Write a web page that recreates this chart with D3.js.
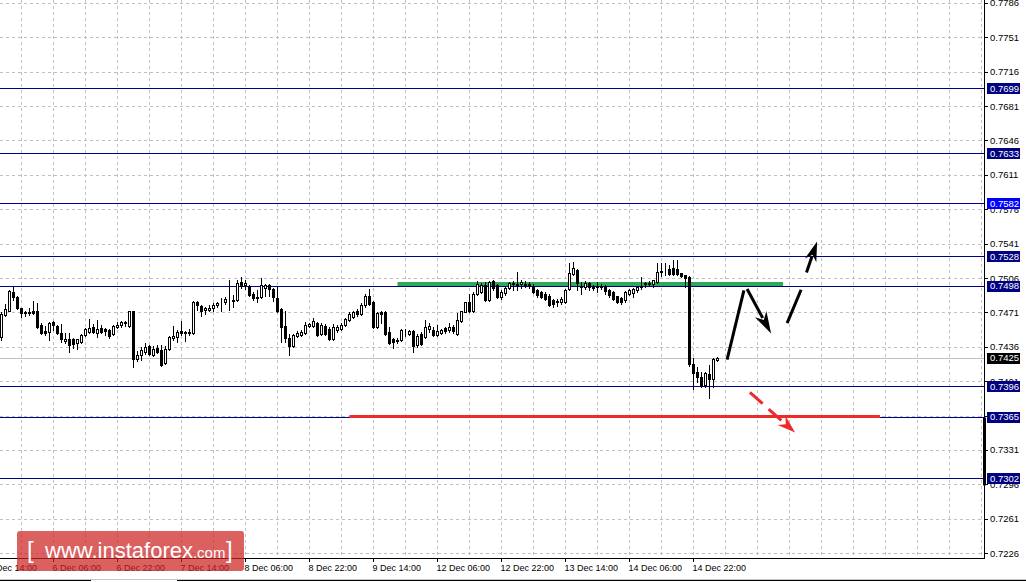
<!DOCTYPE html>
<html><head><meta charset="utf-8">
<script src="https://cdnjs.cloudflare.com/ajax/libs/d3/7.8.5/d3.min.js"></script>
<style>html,body{margin:0;padding:0;background:#fff;overflow:hidden}svg{display:block}</style>
</head><body><svg id="c" width="1026" height="582"></svg>
<script>
// ---- data (AUD/USD H1 candles) ----
const opens = [
0.7446,0.7468,0.7473,0.7492,0.7487,0.7476,0.7471,0.7470,0.7472,0.7472,
0.7458,0.7452,0.7451,0.7461,0.7457,0.7450,0.7442,0.7444,0.7444,0.7440,
0.7441,0.7448,0.7451,0.7456,0.7450,0.7455,0.7454,0.7453,0.7449,0.7456,
0.7458,0.7460,0.7457,0.7472,0.7424,0.7428,0.7431,0.7437,0.7428,0.7435,
0.7433,0.7420,0.7434,0.7445,0.7446,0.7452,0.7451,0.7450,0.7450,0.7482,
0.7478,0.7474,0.7474,0.7476,0.7479,0.7481,0.7482,0.7484,0.7484,0.7484,
0.7502,0.7499,0.7498,0.7490,0.7486,0.7487,0.7496,0.7499,0.7495,0.7486,
0.7475,0.7457,0.7445,0.7437,0.7447,0.7448,0.7450,0.7457,0.7457,0.7460,
0.7449,0.7457,0.7454,0.7444,0.7453,0.7454,0.7458,0.7463,0.7466,0.7472,
0.7469,0.7479,0.7488,0.7482,0.7456,0.7471,0.7471,0.7451,0.7444,0.7442,
0.7443,0.7452,0.7449,0.7452,0.7438,0.7449,0.7446,0.7454,0.7453,0.7448,
0.7450,0.7455,0.7453,0.7456,0.7449,0.7462,0.7471,0.7482,0.7472,0.7490,
0.7492,0.7499,0.7484,0.7503,0.7499,0.7487,0.7491,0.7496,0.7500,0.7500,
0.7500,0.7500,0.7500,0.7497,0.7494,0.7492,0.7490,0.7488,0.7484,0.7482,
0.7482,0.7482,0.7495,0.7510,0.7514,0.7497,0.7497,0.7501,0.7497,0.7497,
0.7498,0.7497,0.7494,0.7492,0.7488,0.7486,0.7484,0.7490,0.7491,0.7494,
0.7497,0.7500,0.7501,0.7500,0.7502,0.7512,0.7513,0.7515,0.7516,0.7515,
0.7511,0.7509,0.7507,0.7419,0.7410,0.7405,0.7397,0.7408,0.7403,0.7423];
const highs = [
0.7471,0.7480,0.7494,0.7497,0.7488,0.7476,0.7473,0.7476,0.7483,0.7481,
0.7460,0.7457,0.7461,0.7462,0.7458,0.7459,0.7450,0.7450,0.7445,0.7444,
0.7449,0.7455,0.7464,0.7459,0.7463,0.7458,0.7455,0.7454,0.7458,0.7461,
0.7462,0.7462,0.7473,0.7473,0.7432,0.7436,0.7440,0.7438,0.7437,0.7438,
0.7438,0.7437,0.7447,0.7457,0.7453,0.7462,0.7452,0.7454,0.7483,0.7483,
0.7479,0.7477,0.7479,0.7481,0.7482,0.7486,0.7487,0.7504,0.7489,0.7504,
0.7507,0.7504,0.7499,0.7492,0.7494,0.7506,0.7500,0.7500,0.7496,0.7497,
0.7476,0.7473,0.7449,0.7449,0.7452,0.7453,0.7461,0.7460,0.7465,0.7461,
0.7460,0.7459,0.7456,0.7459,0.7458,0.7460,0.7465,0.7471,0.7473,0.7475,
0.7481,0.7490,0.7495,0.7483,0.7471,0.7473,0.7473,0.7456,0.7445,0.7445,
0.7454,0.7454,0.7453,0.7453,0.7449,0.7451,0.7463,0.7460,0.7456,0.7458,
0.7454,0.7456,0.7460,0.7458,0.7470,0.7473,0.7482,0.7490,0.7492,0.7503,
0.7501,0.7502,0.7503,0.7504,0.7500,0.7494,0.7497,0.7502,0.7503,0.7512,
0.7504,0.7503,0.7502,0.7500,0.7495,0.7493,0.7492,0.7490,0.7485,0.7485,
0.7487,0.7495,0.7521,0.7522,0.7515,0.7502,0.7503,0.7502,0.7499,0.7502,
0.7500,0.7499,0.7495,0.7493,0.7488,0.7487,0.7493,0.7495,0.7496,0.7498,
0.7507,0.7502,0.7503,0.7504,0.7521,0.7521,0.7521,0.7519,0.7524,0.7524,
0.7511,0.7509,0.7508,0.7425,0.7415,0.7410,0.7410,0.7418,0.7425,0.7426];
const lows = [
0.7443,0.7467,0.7472,0.7484,0.7475,0.7466,0.7467,0.7468,0.7469,0.7455,
0.7449,0.7448,0.7443,0.7453,0.7449,0.7441,0.7440,0.7431,0.7435,0.7434,
0.7440,0.7447,0.7450,0.7450,0.7446,0.7450,0.7448,0.7445,0.7448,0.7455,
0.7456,0.7457,0.7456,0.7416,0.7422,0.7423,0.7429,0.7428,0.7427,0.7430,
0.7417,0.7419,0.7433,0.7443,0.7441,0.7448,0.7442,0.7448,0.7449,0.7474,
0.7467,0.7469,0.7472,0.7473,0.7477,0.7473,0.7480,0.7474,0.7477,0.7483,
0.7496,0.7495,0.7488,0.7484,0.7482,0.7486,0.7488,0.7488,0.7483,0.7471,
0.7441,0.7441,0.7428,0.7436,0.7446,0.7447,0.7449,0.7456,0.7456,0.7447,
0.7448,0.7448,0.7443,0.7443,0.7451,0.7453,0.7457,0.7462,0.7465,0.7467,
0.7468,0.7477,0.7479,0.7455,0.7455,0.7460,0.7448,0.7439,0.7435,0.7440,
0.7442,0.7447,0.7448,0.7431,0.7436,0.7438,0.7445,0.7451,0.7447,0.7447,
0.7449,0.7450,0.7451,0.7450,0.7448,0.7461,0.7471,0.7471,0.7471,0.7489,
0.7491,0.7483,0.7483,0.7494,0.7486,0.7485,0.7489,0.7495,0.7494,0.7494,
0.7496,0.7497,0.7496,0.7491,0.7487,0.7486,0.7484,0.7478,0.7477,0.7478,
0.7480,0.7481,0.7494,0.7509,0.7494,0.7490,0.7495,0.7494,0.7494,0.7492,
0.7495,0.7490,0.7487,0.7484,0.7481,0.7480,0.7482,0.7489,0.7487,0.7492,
0.7495,0.7497,0.7498,0.7497,0.7501,0.7508,0.7509,0.7509,0.7509,0.7509,
0.7507,0.7497,0.7417,0.7393,0.7400,0.7395,0.7395,0.7384,0.7395,0.7422];
const closes = [
0.7469,0.7475,0.7493,0.7487,0.7476,0.7470,0.7470,0.7471,0.7470,0.7456,
0.7450,0.7450,0.7460,0.7458,0.7450,0.7444,0.7444,0.7438,0.7439,0.7444,
0.7448,0.7454,0.7455,0.7451,0.7454,0.7451,0.7452,0.7447,0.7457,0.7458,
0.7461,0.7461,0.7472,0.7424,0.7428,0.7433,0.7436,0.7429,0.7434,0.7431,
0.7418,0.7434,0.7446,0.7447,0.7451,0.7450,0.7450,0.7451,0.7482,0.7479,
0.7473,0.7476,0.7476,0.7479,0.7481,0.7481,0.7485,0.7484,0.7483,0.7501,
0.7498,0.7501,0.7489,0.7486,0.7487,0.7499,0.7499,0.7495,0.7487,0.7472,
0.7456,0.7445,0.7437,0.7448,0.7450,0.7451,0.7458,0.7459,0.7462,0.7448,
0.7458,0.7449,0.7444,0.7456,0.7456,0.7458,0.7464,0.7469,0.7471,0.7469,
0.7479,0.7488,0.7480,0.7456,0.7470,0.7469,0.7449,0.7440,0.7441,0.7443,
0.7453,0.7452,0.7452,0.7437,0.7447,0.7439,0.7456,0.7457,0.7448,0.7452,
0.7453,0.7452,0.7456,0.7452,0.7463,0.7472,0.7482,0.7472,0.7490,0.7500,
0.7499,0.7484,0.7502,0.7496,0.7487,0.7492,0.7496,0.7501,0.7501,0.7499,
0.7502,0.7499,0.7498,0.7492,0.7489,0.7487,0.7485,0.7479,0.7480,0.7483,
0.7485,0.7494,0.7511,0.7516,0.7501,0.7498,0.7501,0.7497,0.7496,0.7498,
0.7497,0.7493,0.7489,0.7485,0.7482,0.7482,0.7492,0.7494,0.7495,0.7497,
0.7498,0.7501,0.7500,0.7504,0.7512,0.7513,0.7513,0.7510,0.7510,0.7510,
0.7508,0.7506,0.7419,0.7409,0.7405,0.7396,0.7409,0.7403,0.7424,0.7425];

const priceTicks = [0.7786,0.7751,0.7716,0.7681,0.7646,0.7611,0.7576,0.7541,0.7506,0.7471,0.7436,0.7401,0.7366,0.7331,0.7296,0.7261,0.7226];
const timeLabels = ["5 Dec 14:00","6 Dec 06:00","6 Dec 22:00","7 Dec 14:00","8 Dec 06:00","8 Dec 22:00","9 Dec 14:00","12 Dec 06:00","12 Dec 22:00","13 Dec 14:00","14 Dec 06:00","14 Dec 22:00"];
const timeLabelBars = [-3,13,29,45,61,77,93,109,125,141,157,173];
const levels = [0.7699,0.7633,0.7582,0.7528,0.7498,0.7396,0.7365,0.7302];
const bidPrice = 0.7425;
const resistance = {price:0.7500, from:99, to:195.4};
const support = {price:0.7365, from:87, to:219.6};
// forecast paths [bar index, price]
const pathUp1 = [[181.4,0.74231],[185.6,0.74934]];
const pathDown = [[186.4,0.74949],[192.4,0.74496]];
const pathUp2 = [[196.4,0.74601],[199.9,0.74941]];
const pathUp3 = [[201.25,0.75117],[203.9,0.75433]];
const pathRed = [[187.1,0.73896],[198.4,0.73488]];

// ---- drawing ----
const svg = d3.select("#c");
const PR = 984, PB = 558;
const x = d3.scaleLinear().domain([0,245]).range([1.5,981.5]);
const y = d3.scaleLinear().domain([0.7302,0.7699]).range([478.5,88.5]);
const py = v => Math.floor(y(v)+0.4)+0.5;
const font = "'Liberation Sans', Arial, sans-serif";

svg.append("rect").attr("width",1026).attr("height",582).attr("fill","#fff");
svg.append("defs").append("clipPath").attr("id","plot")
  .append("rect").attr("x",0).attr("y",0).attr("width",PR).attr("height",PB);
const plot = svg.append("g").attr("clip-path","url(#plot)");

// grid
const gx = d3.range(0,31).map(k=>5+8*k);
plot.append("g").selectAll("line").data(gx).join("line")
  .attr("x1",d=>x(d)).attr("x2",d=>x(d)).attr("y1",0).attr("y2",PB)
  .attr("stroke","#c0c0c0").attr("stroke-dasharray","3,3").attr("shape-rendering","crispEdges");
plot.append("g").selectAll("line").data(priceTicks).join("line")
  .attr("x1",0).attr("x2",PR).attr("y1",py).attr("y2",py)
  .attr("stroke","#c0c0c0").attr("stroke-dasharray","3,3").attr("shape-rendering","crispEdges");

// bid line
plot.append("line").attr("x1",0).attr("x2",PR)
  .attr("y1",py(bidPrice)).attr("y2",py(bidPrice))
  .attr("stroke","#c0c0c0").attr("shape-rendering","crispEdges");

// level lines
plot.append("g").selectAll("line").data(levels).join("line")
  .attr("x1",0).attr("x2",PR).attr("y1",py).attr("y2",py)
  .attr("stroke","#00008c").attr("shape-rendering","crispEdges");

// green & red horizontal lines
plot.append("line").attr("x1",x(resistance.from)).attr("x2",x(resistance.to))
  .attr("y1",y(resistance.price)).attr("y2",y(resistance.price))
  .attr("stroke","#2eaa58").attr("stroke-width",4);
plot.append("line").attr("x1",x(support.from)).attr("x2",x(support.to))
  .attr("y1",y(support.price)).attr("y2",y(support.price))
  .attr("stroke","#ee2a2a").attr("stroke-width",3);

// candles
const bars = d3.range(opens.length);
const cg = plot.append("g").attr("shape-rendering","crispEdges");
cg.selectAll("line").data(bars).join("line")
  .attr("x1",i=>x(i)).attr("x2",i=>x(i))
  .attr("y1",i=>Math.round(y(highs[i]))).attr("y2",i=>Math.round(y(lows[i]))+1)
  .attr("stroke","#000");
cg.selectAll("rect").data(bars).join("rect")
  .attr("x",i=>x(i)-1).attr("width",2)
  .attr("y",i=>Math.round(y(Math.max(opens[i],closes[i])))+0.5)
  .attr("height",i=>Math.max(0,Math.round(y(Math.min(opens[i],closes[i])))-Math.round(y(Math.max(opens[i],closes[i])))))
  .attr("fill",i=>closes[i]>=opens[i]?"#fff":"#000")
  .attr("stroke","#000");

// arrows
function arrow(pts, color, dash, headLen, headW){
  const [p0,p1] = pts.map(p=>[x(p[0]),y(p[1])]);
  const dx=p1[0]-p0[0], dy=p1[1]-p0[1], L=Math.hypot(dx,dy), ux=dx/L, uy=dy/L;
  const end = headLen? [p1[0]-ux*headLen*0.8, p1[1]-uy*headLen*0.8] : p1;
  const ln = plot.append("line").attr("x1",p0[0]).attr("y1",p0[1]).attr("x2",end[0]).attr("y2",end[1])
    .attr("stroke",color).attr("stroke-width",3);
  if(dash) ln.attr("stroke-dasharray",dash);
  if(headLen){
    const bx=p1[0]-ux*headLen, by=p1[1]-uy*headLen, px=-uy, pyy=ux;
    plot.append("path").attr("d",`M${p1[0]},${p1[1]}L${bx+px*headW/2},${by+pyy*headW/2}L${bx+ux*headLen*0.3},${by+uy*headLen*0.3}L${bx-px*headW/2},${by-pyy*headW/2}Z`)
      .attr("fill",color);
  }
}
arrow(pathUp1,"#000",null,0,0);
arrow(pathDown,"#000",null,22,13);
arrow(pathUp2,"#000",null,0,0);
arrow(pathUp3,"#000",null,20,12);
arrow(pathRed,"#ee2a2a","17,8",18,12);

// axes
svg.append("line").attr("x1",PR+0.5).attr("x2",PR+0.5).attr("y1",0).attr("y2",PB+1).attr("stroke","#000");
svg.append("line").attr("x1",0).attr("x2",PR+1).attr("y1",PB+0.5).attr("y2",PB+0.5).attr("stroke","#000");
svg.append("rect").attr("x",PR-1).attr("width",3).attr("y",y(0.7364)).attr("height",y(0.7295)-y(0.7364)).attr("fill","#000");

// price ticks
svg.append("g").selectAll("line").data(priceTicks).join("line")
  .attr("x1",PR).attr("x2",PR+4).attr("y1",py).attr("y2",py)
  .attr("stroke","#000");
svg.append("g").selectAll("text").data(priceTicks).join("text")
  .attr("x",990).attr("y",d=>y(d)).attr("dy","0.36em")
  .attr("font-family",font).attr("font-size","9.5px").attr("fill","#000")
  .text(d=>d3.format(".4f")(d));

// level labels
const lvlAll = levels.map(v=>({v, fill: v===0.7582?"#0000ff":"#000080"})).concat([{v:bidPrice, fill:"#000"}]);
const lg = svg.append("g").selectAll("g").data(lvlAll).join("g");
lg.append("rect").attr("x",987).attr("width",33).attr("y",d=>Math.floor(y(d.v)+0.4)-5).attr("height",11).attr("fill",d=>d.fill);
lg.append("text").attr("x",990).attr("y",d=>y(d.v)).attr("dy","0.36em")
  .attr("font-family",font).attr("font-size","9.5px").attr("fill","#fff")
  .text(d=>d3.format(".4f")(d.v));

// time axis
svg.append("g").selectAll("line").data(timeLabelBars).join("line")
  .attr("x1",i=>x(i)).attr("x2",i=>x(i)).attr("y1",PB).attr("y2",PB+4).attr("stroke","#000");
svg.append("g").selectAll("text").data(timeLabels).join("text")
  .attr("x",(d,k)=>x(timeLabelBars[k])-1).attr("y",571)
  .attr("font-family",font).attr("font-size","9px").attr("fill","#000")
  .text(d=>d);

// bottom frame
svg.append("line").attr("x1",0).attr("x2",1026).attr("y1",579.5).attr("y2",579.5).attr("stroke","#c8c8c8");
svg.append("line").attr("x1",0).attr("x2",91).attr("y1",580.5).attr("y2",580.5).attr("stroke","#000");
svg.append("line").attr("x1",177).attr("x2",1026).attr("y1",580.5).attr("y2",580.5).attr("stroke","#000");

// watermark
const wm = svg.append("g");
wm.append("rect").attr("x",17).attr("y",531).attr("width",227).attr("height",40).attr("rx",3)
  .attr("fill","rgba(205,35,35,0.72)");
const wt = wm.append("text").attr("y",558).attr("font-family",font).attr("fill","#fff");
wt.append("tspan").attr("x",27).attr("font-size","24px").attr("font-weight","300").text("[");
wt.append("tspan").attr("x",45).attr("font-size","22px").text("www.instaforex");
wt.append("tspan").attr("font-size","15px").text(".com");
wt.append("tspan").attr("x",226).attr("font-size","24px").text("]");
</script></body></html>
